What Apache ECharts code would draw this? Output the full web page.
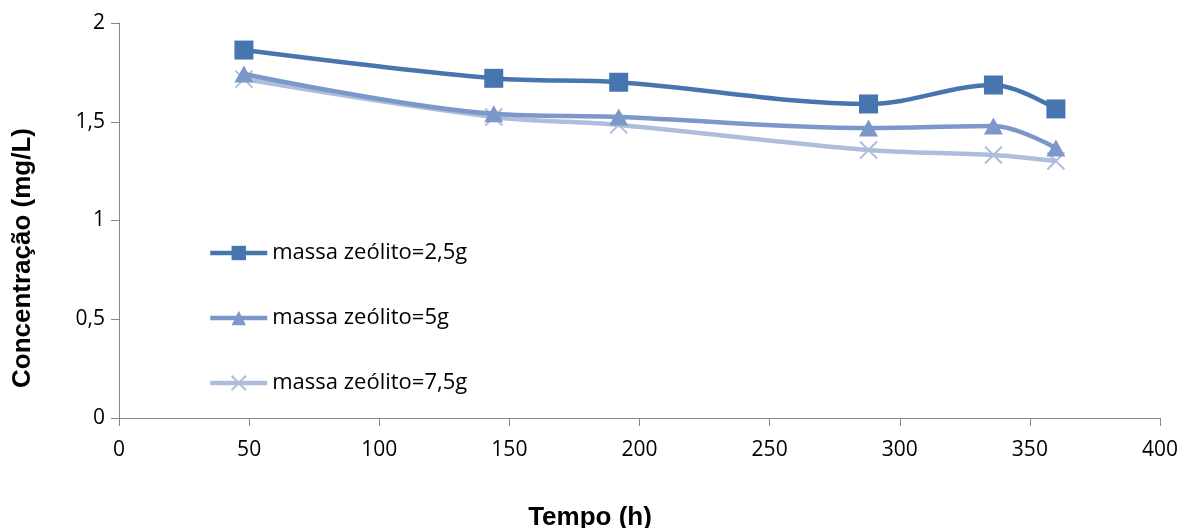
<!DOCTYPE html>
<html><head><meta charset="utf-8">
<script src="https://cdn.jsdelivr.net/npm/echarts@6/dist/echarts.min.js"></script>
<style>html,body{margin:0;padding:0;background:#fff}#c{width:1186px;height:528px}</style>
</head><body><div id="c"></div>
<script>
const times = [48, 144, 192, 288, 336, 360];
const s25 = [1.863, 1.72, 1.70, 1.59, 1.686, 1.565];
const s5 = [1.742, 1.54, 1.524, 1.468, 1.478, 1.367];
const s75 = [1.716, 1.524, 1.484, 1.357, 1.332, 1.301];
const seriesNames = ['massa zeólito=2,5g', 'massa zeólito=5g', 'massa zeólito=7,5g'];
const yTitle = 'Concentração (mg/L)';
const xTitle = 'Tempo (h)';

const c1 = '#4775AF', c2 = '#7C97C9', c3 = '#ADBDDB';
const fontT = '"Open Sans", "Noto Sans", sans-serif';
const titleFont = 'bold 26px "Liberation Sans", Arial, sans-serif';
const crossPath = 'path://M0,0L10,10M10,0L0,10';
function pairs(v){ return times.map((t,i)=>[t, v[i]]); }

const chart = echarts.init(document.getElementById('c'));
chart.setOption({
  animation: false,
  grid: {left: 119, right: 26, top: 23, bottom: 110},
  legend: {
    orient: 'vertical', left: 203, top: 237, itemWidth: 57, itemHeight: 18, itemGap: 43,
    lineStyle: {width: 4.5},
    textStyle: {fontFamily: fontT, fontSize: 22, lineHeight: 20, color: '#000'},
    data: seriesNames
  },
  graphic: [
    {type: 'text', x: 590, y: 518, style: {text: xTitle, font: titleFont, fill: '#000', textAlign: 'center', textVerticalAlign: 'middle'}},
    {type: 'text', x: 23, y: 258, rotation: Math.PI / 2, style: {text: yTitle, font: titleFont, fill: '#000', textAlign: 'center', textVerticalAlign: 'middle'}}
  ],
  xAxis: {
    type: 'value', min: 0, max: 400, interval: 50,
    axisLine: {lineStyle: {color: '#868686', width: 1}},
    axisTick: {show: true, length: 8, lineStyle: {color: '#868686'}},
    splitLine: {show: false},
    axisLabel: {fontFamily: fontT, fontSize: 21, color: '#000', margin: 22}
  },
  yAxis: {
    type: 'value', min: 0, max: 2, interval: 0.5,
    axisLine: {show: true, lineStyle: {color: '#868686', width: 1}},
    axisTick: {show: true, length: 8, lineStyle: {color: '#868686'}},
    splitLine: {show: false},
    axisLabel: {fontFamily: fontT, fontSize: 21, color: '#000', margin: 14, formatter: v => String(v).replace('.', ',')}
  },
  series: [
    {name: seriesNames[0], type: 'line', data: pairs(s25), smooth: 0.35, symbol: 'rect', symbolSize: 19,
     lineStyle: {color: c1, width: 4.5}, itemStyle: {color: c1}, z: 3},
    {name: seriesNames[1], type: 'line', data: pairs(s5), smooth: 0.35, symbol: 'triangle', symbolSize: [19, 17],
     lineStyle: {color: c2, width: 4.5}, itemStyle: {color: c2}, z: 2},
    {name: seriesNames[2], type: 'line', data: pairs(s75), smooth: 0.35, symbol: crossPath, symbolSize: 17,
     lineStyle: {color: c3, width: 4.5}, itemStyle: {color: c3, borderColor: c3, borderWidth: 2}, z: 1}
  ]
});
</script></body></html>
